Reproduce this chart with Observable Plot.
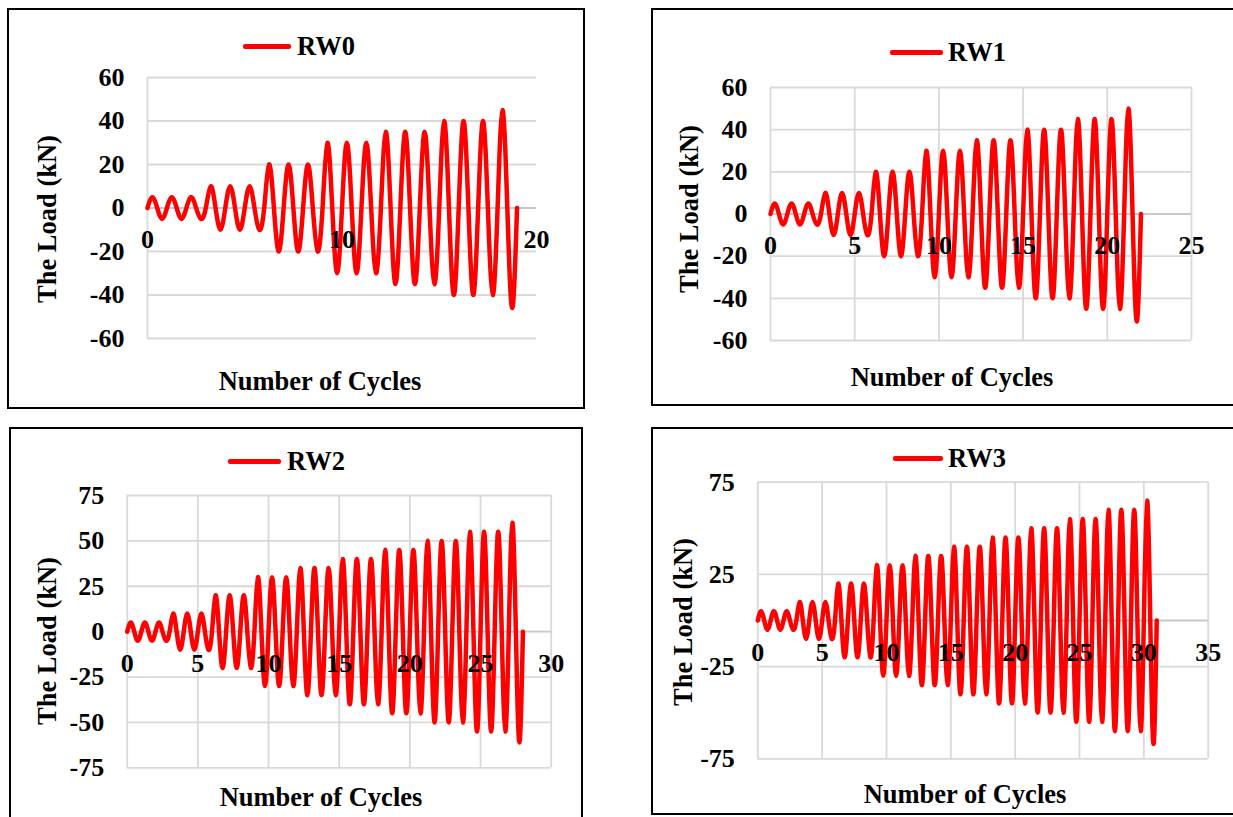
<!DOCTYPE html>
<html>
<head>
<meta charset="utf-8">
<script src="https://cdn.jsdelivr.net/npm/d3@7"></script>
<script src="https://cdn.jsdelivr.net/npm/@observablehq/plot@0.6"></script>
<style>
  html, body { margin: 0; padding: 0; background: #fff; width: 1233px; height: 817px; overflow: hidden; }
  .box { position: absolute; border: 2px solid #000; box-sizing: border-box; }
  .svgwrap { position: absolute; }
  .svgwrap svg text { font-family: "Liberation Serif", "Times New Roman", serif !important; font-weight: bold !important; }
  .t { position: absolute; font-family: "Liberation Serif", "Times New Roman", serif; font-weight: bold;
       font-size: 26.5px; white-space: nowrap; color: #000; line-height: 1; }
  .legline { position: absolute; height: 5px; background: #ff0000; border-radius: 2px; }
</style>
</head>
<body>
<script>
// ---------------- data ----------------
const rw0Peaks   = [5, 5, 5, 10, 10, 10, 20, 20, 20, 30, 30, 30, 35, 35, 35, 40, 40, 40, 45];
const rw0Troughs = [-5, -5, -5, -10, -10, -10, -20, -20, -20, -30, -30, -30, -35, -35, -35, -40, -40, -40, -46];

const rw1Peaks   = [5, 5, 5, 10, 10, 10, 20, 20, 20, 30, 30, 30, 35, 35, 35, 40, 40, 40, 45, 45, 45, 50];
const rw1Troughs = [-5, -5, -5, -10, -10, -10, -20, -20, -20, -30, -30, -30, -35, -35, -35, -40, -40, -40, -45, -45, -45, -51];

const rw2Peaks   = [5, 5, 5, 10, 10, 10, 20, 20, 20, 30, 30, 30, 35, 35, 35, 40, 40, 40, 45, 45, 45, 50, 50, 50, 55, 55, 55, 60];
const rw2Troughs = [-5, -5, -5, -10, -10, -10, -20, -20, -20, -30, -30, -30, -35, -35, -35, -40, -40, -40, -45, -45, -45, -50, -50, -50, -55, -55, -55, -61];

const rw3Peaks   = [5, 5, 5, 10, 10, 10, 20, 20, 20, 30, 30, 30, 35, 35, 35, 40, 40, 40, 45, 45, 45, 50, 50, 50, 55, 55, 55, 60, 60, 60, 65];
const rw3Troughs = [-5, -5, -5, -10, -10, -10, -20, -20, -20, -30, -30, -30, -35, -35, -35, -40, -40, -40, -45, -45, -45, -50, -50, -50, -55, -55, -55, -60, -60, -60, -67];

const rw0XTicks = [0, 10, 20];
const rw1XTicks = [0, 5, 10, 15, 20, 25];
const rw2XTicks = [0, 5, 10, 15, 20, 25, 30];
const rw3XTicks = [0, 5, 10, 15, 20, 25, 30, 35];

const rw0YTicks = [-60, -40, -20, 0, 20, 40, 60];
const rw1YTicks = [-60, -40, -20, 0, 20, 40, 60];
const rw2YTicks = [-75, -50, -25, 0, 25, 50, 75];
const rw3YTicks = [-75, -25, 25, 75];

const seriesNames = ["RW0", "RW1", "RW2", "RW3"];
const xTitle = "Number of Cycles";
const yTitle = "The Load (kN)";

// ---------------- layout ----------------
const layout = [
  { peaks: rw0Peaks, troughs: rw0Troughs, xTicks: rw0XTicks, yTicks: rw0YTicks, xGrid: false,
    box: {l: 7, t: 8, r: 585, b: 409}, plot: {l: 147, t: 77, r: 536, b: 338},
    leg: {x0: 243, x1: 291, tx: 297, y: 46}, yt: {x: 47, y: 219}, xt: {x: 320, y: 381} },
  { peaks: rw1Peaks, troughs: rw1Troughs, xTicks: rw1XTicks, yTicks: rw1YTicks, xGrid: true,
    box: {l: 651, t: 8, r: 1240, b: 406}, plot: {l: 770, t: 87, r: 1191, b: 340},
    leg: {x0: 890, x1: 943, tx: 948, y: 52}, yt: {x: 689, y: 209}, xt: {x: 952, y: 377} },
  { peaks: rw2Peaks, troughs: rw2Troughs, xTicks: rw2XTicks, yTicks: rw2YTicks, xGrid: true,
    box: {l: 9, t: 427, r: 583, b: 840}, plot: {l: 126.7, t: 495, r: 550.7, b: 767.3},
    leg: {x0: 228, x1: 281, tx: 287, y: 461}, yt: {x: 47, y: 641}, xt: {x: 321, y: 797} },
  { peaks: rw3Peaks, troughs: rw3Troughs, xTicks: rw3XTicks, yTicks: rw3YTicks, xGrid: true,
    box: {l: 651, t: 427, r: 1240, b: 815}, plot: {l: 757.3, t: 481.7, r: 1207.7, b: 758.3},
    leg: {x0: 893, x1: 943, tx: 948, y: 458}, yt: {x: 683, y: 622}, xt: {x: 965, y: 794} }
];

const FONT = '"Liberation Serif", "Times New Roman", serif';
const GRID = "#d9d9d9";

function buildCycles(peaks, troughs) {
  const pts = [{cycle: 0, load: 0}];
  peaks.forEach((p, i) => {
    pts.push({cycle: i + 0.25, load: p});
    pts.push({cycle: i + 0.5, load: 0});
    pts.push({cycle: i + 0.75, load: troughs[i]});
    pts.push({cycle: i + 1, load: 0});
  });
  return pts;
}

function addText(txt, x, y, rotate) {
  const d = document.createElement("div");
  d.className = "t";
  d.textContent = txt;
  d.style.left = x + "px";
  d.style.top = y + "px";
  d.style.transform = "translate(-50%, -50%)" + (rotate ? " rotate(-90deg)" : "");
  document.body.appendChild(d);
  return d;
}

layout.forEach((cfg, k) => {
  const {box, plot} = cfg;
  const b = document.createElement("div");
  b.className = "box";
  Object.assign(b.style, {left: box.l + "px", top: box.t + "px", width: (box.r - box.l) + "px", height: (box.b - box.t) + "px"});
  document.body.appendChild(b);

  const W = Math.min(box.r, 1233) - box.l;
  const H = Math.min(box.b, 817) - box.t;
  const data = buildCycles(cfg.peaks, cfg.troughs);
  const xMax = cfg.xTicks[cfg.xTicks.length - 1];
  const yMin = cfg.yTicks[0], yMax = cfg.yTicks[cfg.yTicks.length - 1];

  const marks = [];
  if (cfg.xGrid) marks.push(Plot.ruleX(cfg.xTicks, {stroke: GRID, strokeWidth: 1.8}));
  else marks.push(Plot.ruleX([0], {stroke: GRID, strokeWidth: 1.8}));
  marks.push(Plot.ruleY(cfg.yTicks.filter(v => v !== 0), {stroke: GRID, strokeWidth: 1.8}));
  marks.push(Plot.ruleY([0], {stroke: "#c8c8c8", strokeWidth: 1.8}));
  marks.push(Plot.line(data, {x: "cycle", y: "load", stroke: "#ff0000", strokeWidth: 4.5, curve: "natural"}));
  marks.push(Plot.axisY(cfg.yTicks, {tickSize: 0, tickPadding: 23, tickFormat: d => String(d),
    fontSize: 26, fontWeight: "bold", fontFamily: FONT, fill: "#000", label: null}));
  marks.push(Plot.text(cfg.xTicks, {x: d => d, y: d => 0, text: d => String(d), dy: 32,
    fontSize: 26, fontWeight: "bold", fontFamily: FONT, fill: "#000", textAnchor: "middle", lineAnchor: "middle"}));

  const chart = Plot.plot({
    width: W, height: H,
    marginLeft: plot.l - box.l, marginRight: box.l + W - plot.r,
    marginTop: plot.t - box.t, marginBottom: box.t + H - plot.b,
    style: {fontFamily: FONT, fontWeight: "bold", fontSize: "26px", background: "transparent", overflow: "visible"},
    x: {domain: [0, xMax], axis: null},
    y: {domain: [yMin, yMax]},
    marks
  });
  const wrap = document.createElement("div");
  wrap.className = "svgwrap";
  wrap.style.left = box.l + "px";
  wrap.style.top = box.t + "px";
  wrap.appendChild(chart);
  document.body.appendChild(wrap);

  const ln = document.createElement("div");
  ln.className = "legline";
  Object.assign(ln.style, {left: cfg.leg.x0 + "px", width: (cfg.leg.x1 - cfg.leg.x0) + "px", top: (cfg.leg.y - 2.5) + "px"});
  document.body.appendChild(ln);
  const lt = document.createElement("div");
  lt.className = "t";
  lt.textContent = seriesNames[k];
  lt.style.left = cfg.leg.tx + "px";
  lt.style.top = cfg.leg.y + "px";
  lt.style.transform = "translate(0, -50%)";
  document.body.appendChild(lt);

  addText(yTitle, cfg.yt.x, cfg.yt.y, true);
  addText(xTitle, cfg.xt.x, cfg.xt.y, false);
});
</script>
</body>
</html>
